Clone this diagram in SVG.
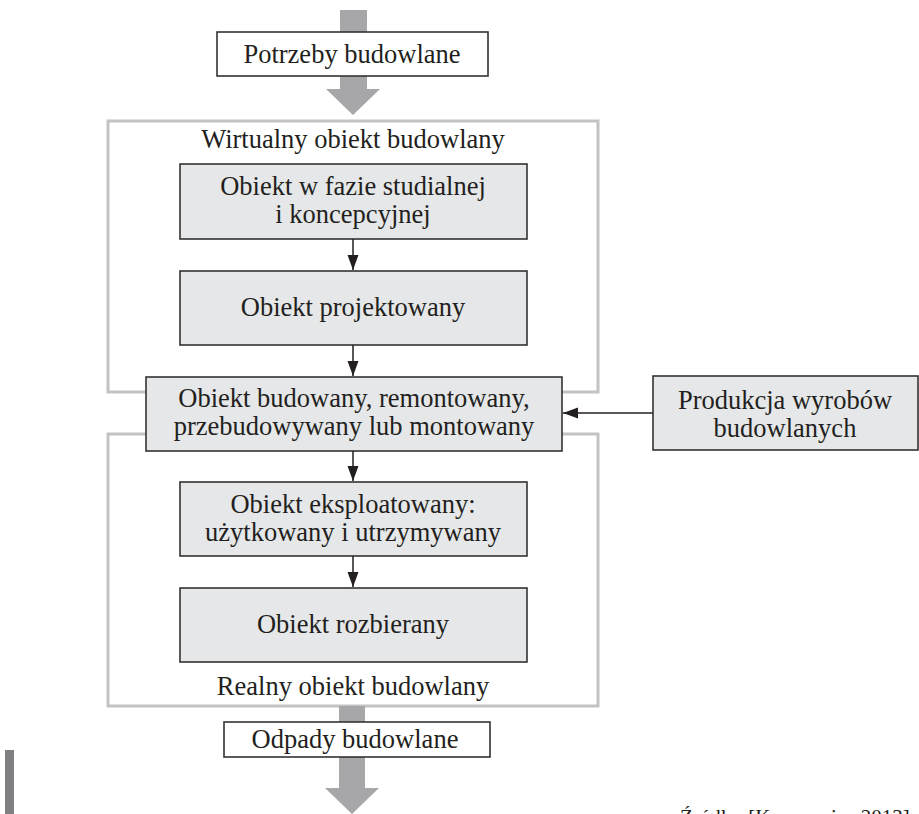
<svg xmlns="http://www.w3.org/2000/svg" width="919" height="814" viewBox="0 0 919 814">
<style>
text{font-family:"Liberation Serif","Times New Roman",serif;font-size:26.5px;fill:#231f20;text-anchor:middle}
.box{fill:#e6e7e8;stroke:#333;stroke-width:1.6}
.wbox{fill:#fff;stroke:#333;stroke-width:1.6}
.frame{fill:none;stroke:#c3c3c5;stroke-width:3}
.big{fill:#a7a7a9}
.con{stroke:#231f20;stroke-width:1.5;fill:none;marker-end:url(#ah)}
</style>
<defs>
<marker id="ah" markerUnits="userSpaceOnUse" markerWidth="16" markerHeight="12" refX="15" refY="5.5" orient="auto">
<path d="M0,0 L15,5.5 L0,11 z" fill="#231f20"/>
</marker>
</defs>
<rect width="919" height="814" fill="#fff"/>
<g id="frames">
<rect id="frame-virtual" class="frame" x="108" y="121" width="490" height="271"/>
<rect id="frame-real" class="frame" x="108" y="434" width="490" height="272"/>
<text x="353" y="148">Wirtualny obiekt budowlany</text>
<text x="353" y="695">Realny obiekt budowlany</text>
</g>
<g id="big-arrows">
<rect class="big" x="340" y="10" width="27" height="24"/>
<rect class="big" x="340" y="74" width="27" height="16"/>
<polygon class="big" points="326,89 380,89 353,115"/>
<rect class="big" x="339" y="706" width="26" height="18"/>
<rect class="big" x="339" y="755" width="26" height="34"/>
<polygon class="big" points="325,788 379,788 352,814"/>
</g>
<g id="n-potrzeby">
<rect class="wbox" x="217" y="32" width="271" height="44"/>
<text x="352" y="63">Potrzeby budowlane</text>
</g>
<g id="n-studialna">
<rect class="box" x="180" y="164" width="347" height="75"/>
<text x="353" y="195">Obiekt w fazie studialnej</text>
<text x="353" y="223">i koncepcyjnej</text>
</g>
<g id="n-projektowany">
<rect class="box" x="180" y="271" width="347" height="74"/>
<text x="353" y="316">Obiekt projektowany</text>
</g>
<g id="n-budowany">
<rect class="box" x="146" y="377" width="416" height="74"/>
<text x="354" y="407">Obiekt budowany, remontowany,</text>
<text x="354" y="435">przebudowywany lub montowany</text>
</g>
<g id="n-produkcja">
<rect class="box" x="653" y="376" width="265" height="74"/>
<text x="785" y="409">Produkcja wyrobów</text>
<text x="785" y="437">budowlanych</text>
</g>
<g id="n-eksploatowany">
<rect class="box" x="180" y="482" width="347" height="74"/>
<text x="353" y="513">Obiekt eksploatowany:</text>
<text x="353" y="541">użytkowany i utrzymywany</text>
</g>
<g id="n-rozbierany">
<rect class="box" x="180" y="588" width="347" height="74"/>
<text x="353" y="633">Obiekt rozbierany</text>
</g>
<g id="n-odpady">
<rect class="wbox" x="224" y="722" width="266" height="35"/>
<text x="355" y="748">Odpady budowlane</text>
</g>
<g id="connectors">
<line class="con" x1="353" y1="239" x2="353" y2="270"/>
<line class="con" x1="353" y1="345" x2="353" y2="376"/>
<line class="con" x1="353" y1="451" x2="353" y2="481"/>
<line class="con" x1="353" y1="556" x2="353" y2="587"/>
<line class="con" x1="653" y1="413" x2="563" y2="413"/>
</g>
<rect x="5" y="750" width="9" height="64" fill="#808083"/>
<text x="680" y="824" style="text-anchor:start;font-size:21px">Źródło: [Kasprowicz 2013]</text>
</svg>
